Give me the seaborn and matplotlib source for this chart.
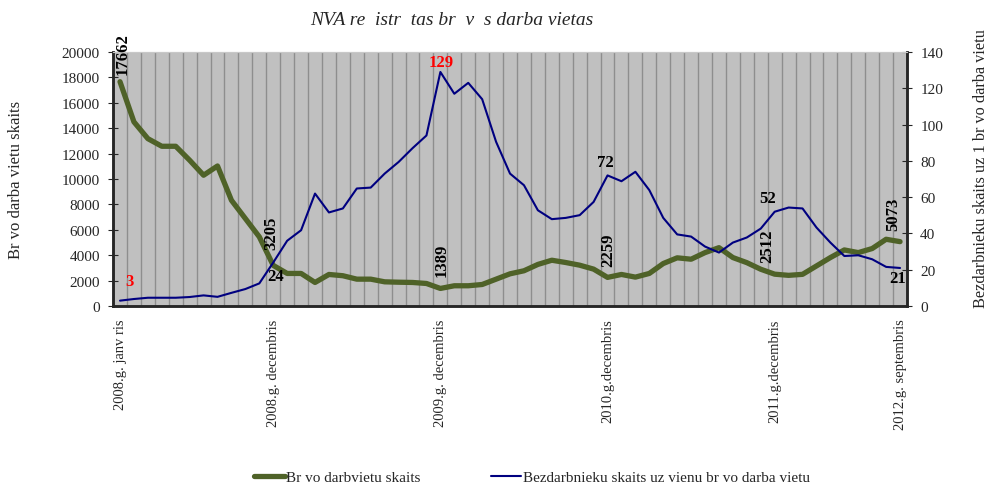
import numpy as np
import pandas as pd
import matplotlib
matplotlib.use("Agg")
import matplotlib.pyplot as plt
import seaborn as sns

# monthly values, 2008 Jan .. 2012 Sep
vakances = [17662, 14500, 13180, 12580, 12580, 11480, 10300, 11030, 8330, 6890,
            5450, 3205, 2570, 2570, 1860, 2490, 2390, 2120, 2120, 1910,
            1880, 1860, 1780, 1389, 1600, 1600, 1700, 2120, 2540, 2780,
            3280, 3610, 3430, 3220, 2910, 2259, 2490, 2280, 2570, 3350,
            3800, 3690, 4210, 4600, 3820, 3420, 2900, 2512, 2420, 2500,
            3160, 3820, 4420, 4210, 4530, 5260, 5073]
uz_vienu = [3, 3.9, 4.6, 4.6, 4.6, 5.0, 5.9, 5.1, 7.3, 9.4,
            12.5, 24, 36, 41.8, 62, 51.6, 53.8, 64.8, 65.3, 73,
            79.4, 87, 94, 129, 117, 123, 114, 90.5, 73, 66.6,
            52.8, 47.9, 48.6, 50.1, 57.4, 72, 68.8, 74, 63.9, 48.6,
            39.5, 38.3, 32.8, 29.5, 35, 37.8, 42.7, 52, 54.3, 53.8,
            43.3, 35, 27.6, 28, 25.8, 21.6, 21]
menesis = list(range(len(vakances)))

tick_pos = [0, 11, 23, 35, 47, 56]
tick_labels = ["2008.g. janv ris", "2008.g. decembris", "2009.g. decembris",
               "2010.g.decembris", "2011.g.decembris", "2012.g. septembris"]

df = pd.DataFrame({"menesis": menesis, "vakances": vakances, "uz_vienu": uz_vienu})

sns.set_style("white")
plt.rcParams["font.family"] = ["Liberation Serif", "DejaVu Serif"]

green = "#4F6228"
navy = "#000080"

fig = plt.figure(figsize=(9.89, 4.89), dpi=100)
ax = fig.add_axes([0.1143, 0.372, 0.8028, 0.5196])
ax2 = ax.twinx()

ax.set_facecolor("#C0C0C0")
sns.lineplot(data=df, x="menesis", y="vakances", ax=ax, color=green, lw=3.8,
             label="Br vo darbvietu skaits", legend=False)
sns.lineplot(data=df, x="menesis", y="uz_vienu", ax=ax2, color=navy, lw=1.5,
             label="Bezdarbnieku skaits uz vienu br vo darba vietu", legend=False)
ax.set_zorder(1)
ax2.set_zorder(2)
ax2.patch.set_visible(False)

ax.set_xlim(-0.5, len(menesis) - 0.5)
ax.set_ylim(0, 20000)
ax2.set_ylim(0, 140)
ax.set_yticks(range(0, 20001, 2000))
ax2.set_yticks(range(0, 141, 20))

ax.set_xticks(tick_pos)
ax.set_xticklabels(tick_labels, rotation=90, va="top", ha="center", fontsize=10.5)
ax.set_xticks(np.arange(-0.5, len(menesis), 1), minor=True)
ax.tick_params(axis="x", which="major", length=0, pad=9)
ax.tick_params(axis="x", which="minor", length=4, direction="out", color="black")
ax.grid(axis="x", which="minor", color="#8E8E8E", lw=1)
ax.grid(axis="y", visible=False)
ax.tick_params(axis="y", length=7, direction="inout", labelsize=11, pad=6)
ax2.tick_params(axis="y", length=7, direction="inout", labelsize=11, pad=6)

ax.set_xlabel("")
ax.set_ylabel("")
ax2.set_ylabel("")
for a in (ax, ax2):
    a.spines["left"].set_linewidth(1.8)
    a.spines["right"].set_linewidth(1.8)
    a.spines["bottom"].set_linewidth(1.8)
    a.spines["top"].set_color("#C8C8C8")

# data labels
def px(dx, dy):
    return (dx * 0.72, dy * 0.72)

green_lbl = {0: (3, 8), 11: (-2, 16), 23: (1, 12), 35: (1, 11), 47: (-7, 12), 56: (-7, 12)}
for i, (dx, dy) in green_lbl.items():
    ax2.annotate(str(vakances[i]), (i, vakances[i] / 20000 * 140), xytext=px(dx, dy),
                 textcoords="offset points", rotation=90, ha="center", va="bottom",
                 fontsize=12, fontweight="bold", color="black", annotation_clip=False)

blue_lbl = {0: (9, 12, "red"), 11: (2, -5, "black"), 23: (1, 2, "red"),
            35: (-2, 5, "black"), 47: (-7, 6, "black"), 56: (-2, -2, "black")}
for i, (dx, dy, c) in blue_lbl.items():
    ax2.annotate(f"{uz_vienu[i]:g}", (i, uz_vienu[i]), xytext=px(dx, dy),
                 textcoords="offset points", ha="center",
                 va="bottom" if dy > 0 else "top",
                 fontsize=12, fontweight="bold", color=c, annotation_clip=False)

fig.text(0.457, 0.959, "NVA re  istr  tas br  v  s darba vietas", ha="center",
         va="center", fontsize=14, style="italic")
fig.text(0.016, 0.632, "Br vo darba vietu skaits", rotation=90, ha="center", va="center",
         fontsize=12)
fig.text(0.992, 0.655, "Bezdarbnieku skaits uz 1 br vo darba vietu", rotation=90,
         ha="center", va="center", fontsize=11.7)

h1, l1 = ax.get_legend_handles_labels()
h2, l2 = ax2.get_legend_handles_labels()
fig.legend(h1 + h2, l1 + l2, loc="center", bbox_to_anchor=(0.538, 0.022), ncol=2,
           frameon=False, fontsize=11, handlelength=2.0, handletextpad=0.1,
           columnspacing=4.6)

fig.savefig("out.png", dpi=100)
